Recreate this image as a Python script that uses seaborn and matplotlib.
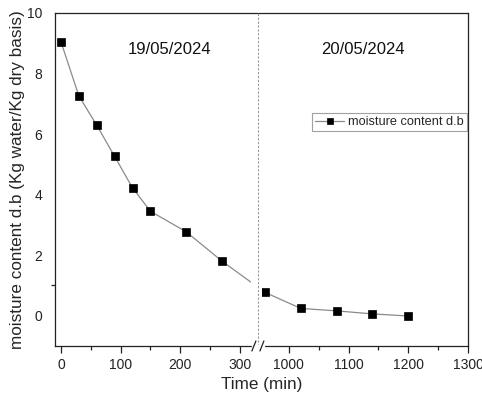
import numpy as np
import pandas as pd
import matplotlib
matplotlib.use('Agg')
import matplotlib.pyplot as plt
import seaborn as sns
from matplotlib.ticker import FixedLocator, NullFormatter

# drying data
time_min = [0, 30, 60, 90, 120, 150, 210, 270, 960, 1020, 1080, 1140, 1200]
moisture = [9.05, 7.26, 6.29, 5.26, 4.22, 3.45, 2.77, 1.80, 0.77, 0.24, 0.16, 0.06, -0.01]

x_major = [0, 100, 200, 300, 1000, 1100, 1200, 1300]
x_minor = [50, 150, 250, 1050, 1150, 1250]
y_major = [0, 2, 4, 6, 8, 10]
y_minor = [1]
day_labels = ['19/05/2024', '20/05/2024']

# axis break (minutes)
B1, B2 = 330, 948
GAP = B2 - B1


def fwd(x):
    x = np.asarray(x, dtype=float)
    return np.where(x <= B1, x, np.where(x >= B2, x - GAP, B1))


def inv(y):
    y = np.asarray(y, dtype=float)
    return np.where(y <= B1, y, y + GAP)


df = pd.DataFrame({'Time (min)': time_min, 'moisture content d.b': moisture})

sns.set_style('ticks')
plt.rcParams['font.family'] = ['Liberation Sans', 'DejaVu Sans']
plt.rcParams['axes.linewidth'] = 0.9

fig = plt.figure(figsize=(4.82, 4.01), dpi=100)
ax = fig.add_axes([0.1141, 0.1372, 0.8568, 0.8304])
ax.set_xscale('function', functions=(fwd, inv))

sns.lineplot(data=df, x='Time (min)', y='moisture content d.b', ax=ax,
             color='#8a8a8a', lw=0.9, marker='s', markersize=5.6,
             markerfacecolor='black', markeredgecolor='black', mew=0.5,
             label='moisture content d.b', zorder=2)
# recolour marker-only legend handle is handled by seaborn line props

xmin, xmax = -10, 1300
ax.set_xlim(xmin, xmax)
ax.set_ylim(-1, 10)

# white gap across the break and dashed separator
ax.axvspan(318, 955, color='white', zorder=2.5, lw=0)
ax.axvline(B1, color='#9a9a9a', lw=0.8, ls=(0, (2, 1.5)), zorder=3)

ax.xaxis.set_major_locator(FixedLocator(x_major))
ax.xaxis.set_minor_locator(FixedLocator(x_minor))
ax.xaxis.set_minor_formatter(NullFormatter())
ax.set_xticklabels([str(v) for v in x_major])
ax.yaxis.set_major_locator(FixedLocator(y_major))
ax.yaxis.set_minor_locator(FixedLocator(y_minor))
ax.tick_params(axis='x', which='major', length=5, width=0.9, pad=4, labelsize=10, colors='#222222')
ax.tick_params(axis='x', which='minor', length=3, width=0.9, colors='#222222')
ax.tick_params(axis='y', which='major', length=0, pad=9, labelsize=10, colors='#222222')
ax.tick_params(axis='y', which='minor', length=3, width=0.9, colors='#222222')
for s in ax.spines.values():
    s.set_color('#222222')

ax.set_xlabel('Time (min)', fontsize=12.3)
ax.set_ylabel('moisture content d.b (Kg water/Kg dry basis)', fontsize=12.3)
ax.xaxis.set_label_coords(0.5, -0.094)
ax.yaxis.set_label_coords(-0.073, 0.5)

# break marks on bottom axis
xb = (fwd(B1) - fwd(xmin)) / (fwd(xmax) - fwd(xmin))
px = 1.0 / 413
py = 1.0 / 333
ax.plot([xb - 5 * px, xb + 5 * px], [0, 0], color='white', lw=2.5,
        transform=ax.transAxes, clip_on=False, zorder=5)
for off in (-4, 4):
    ax.plot([xb + (off - 2) * px, xb + (off + 2) * px], [-5 * py, 5 * py],
            color='#222222', lw=0.9, transform=ax.transAxes, clip_on=False, zorder=6)

ax.text(0.278, 0.889, day_labels[0], transform=ax.transAxes, ha='center', va='center', fontsize=12, color='#111111')
ax.text(0.746, 0.889, day_labels[1], transform=ax.transAxes, ha='center', va='center', fontsize=12, color='#111111')

leg = ax.legend(loc='upper right', bbox_to_anchor=(0.998, 0.70), borderaxespad=0,
                fontsize=9.2, frameon=True, fancybox=False, handlelength=2.3,
                handletextpad=0.3, borderpad=0.25, markerscale=0.75)
leg.get_frame().set_edgecolor('#8a8a8a')
leg.get_frame().set_linewidth(0.8)

fig.savefig('out.png', dpi=100)
